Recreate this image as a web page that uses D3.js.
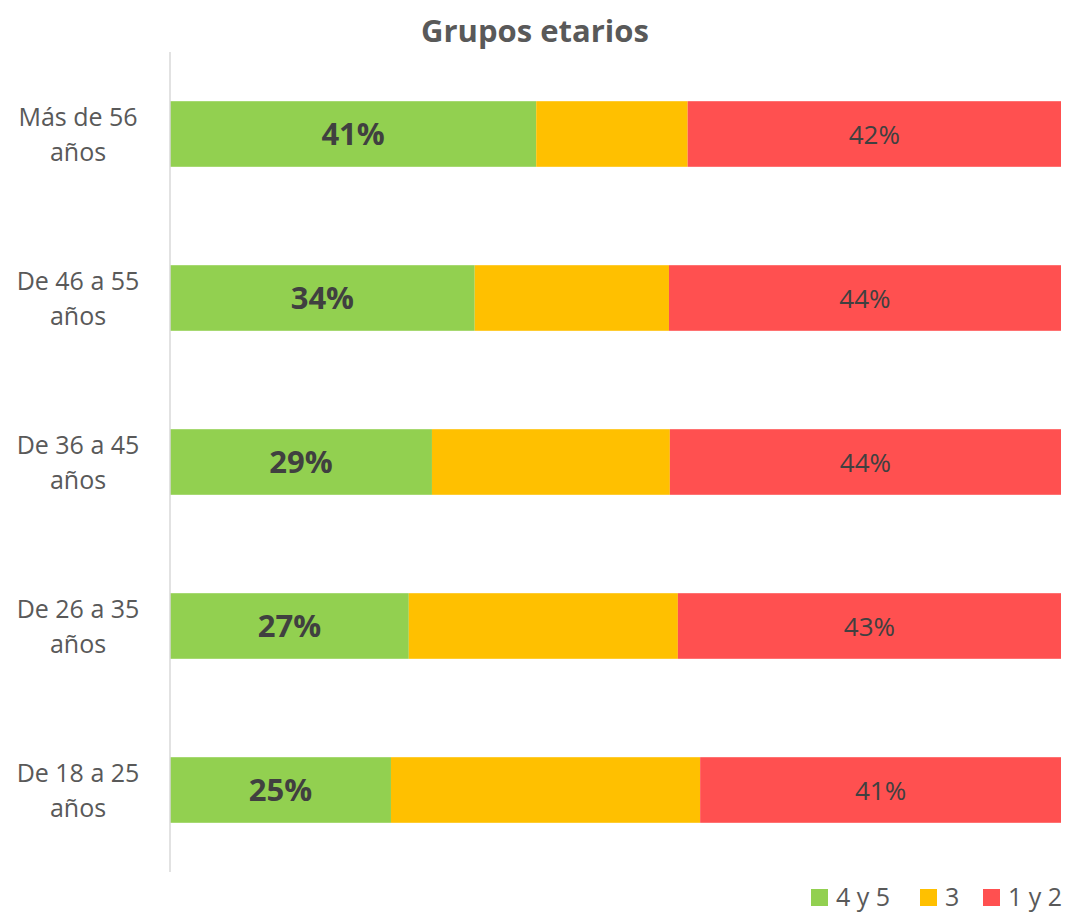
<!DOCTYPE html>
<html><head><meta charset="utf-8">
<script src="https://cdn.jsdelivr.net/npm/d3@7"></script>
<style>body{margin:0;background:#fff}svg{display:block}</style>
</head><body>
<svg id="chart" width="1074" height="914"></svg>
<script>
const categories = ["Más de 56 años","De 46 a 55 años","De 36 a 45 años","De 26 a 35 años","De 18 a 25 años"];
const seriesNames = ["4 y 5","3","1 y 2"];
const seriesColors = ["#92d050","#ffc000","#ff5050"];
const val45 = [41.1, 34.2, 29.4, 26.8, 24.8];
const val3  = [17.0, 21.8, 26.7, 30.2, 34.7];
const val12 = [41.9, 44.0, 43.9, 43.0, 40.5];

(function(){
const svg = d3.select("#chart");
const font = "'Open Sans', 'Noto Sans', sans-serif";
const mLeft = 170, mRight = 1061, mTop = 52, mBottom = 872;

const rows = categories.map((c,i)=>({cat:c, "4 y 5":val45[i], "3":val3[i], "1 y 2":val12[i]}));
const stack = d3.stack().keys(seriesNames).offset(d3.stackOffsetExpand)(rows);

const x = d3.scaleLinear().domain([0,1]).range([mLeft,mRight]);
const y = d3.scaleBand().domain(categories).range([mTop,mBottom]).paddingInner(0.6).paddingOuter(0.3);

svg.append("text").attr("x",535).attr("y",42).attr("text-anchor","middle")
  .attr("font-family",font).attr("font-weight","bold").attr("font-size",31).attr("fill","#595959")
  .text("Grupos etarios");

svg.selectAll("g.series").data(stack).join("g").attr("class","series")
  .attr("fill",(d,i)=>seriesColors[i])
  .selectAll("rect").data(d=>d.map(p=>({p,cat:p.data.cat}))).join("rect")
  .attr("x",d=>x(d.p[0])).attr("width",d=>x(d.p[1])-x(d.p[0]))
  .attr("y",d=>y(d.cat)).attr("height",y.bandwidth());

svg.append("line").attr("x1",mLeft).attr("x2",mLeft).attr("y1",mTop).attr("y2",mBottom)
  .attr("stroke","#d9d9d9").attr("stroke-width",1.5);

categories.forEach(c=>{
  const parts = c.match(/^(.*) (años)$/);
  const cy = y(c)+y.bandwidth()/2;
  const t = svg.append("text").attr("text-anchor","middle").attr("font-family",font)
    .attr("font-size",25).attr("fill","#595959");
  t.append("tspan").attr("x",78).attr("y",cy-8).text(parts[1]);
  t.append("tspan").attr("x",78).attr("y",cy+27).text(parts[2]);
});

const s0 = stack[0], s2 = stack[2];
s0.forEach(p=>{
  svg.append("text").attr("x",(x(p[0])+x(p[1]))/2).attr("y",y(p.data.cat)+y.bandwidth()/2+11)
    .attr("text-anchor","middle").attr("font-family",font).attr("font-weight","bold")
    .attr("font-size",31).attr("fill","#404040").text(Math.round(p.data["4 y 5"])+"%");
});
s2.forEach(p=>{
  svg.append("text").attr("x",(x(p[0])+x(p[1]))/2).attr("y",y(p.data.cat)+y.bandwidth()/2+10)
    .attr("text-anchor","middle").attr("font-family",font)
    .attr("font-size",26).attr("fill","#404040").text(Math.round(p.data["1 y 2"])+"%");
});

const legendX = [811, 920, 983];
seriesNames.forEach((n,i)=>{
  svg.append("rect").attr("x",legendX[i]).attr("y",889).attr("width",17).attr("height",17).attr("fill",seriesColors[i]);
  svg.append("text").attr("x",legendX[i]+25).attr("y",906).attr("font-family",font)
    .attr("font-size",25).attr("fill","#595959").text(n);
});
})();
</script>
</body></html>
